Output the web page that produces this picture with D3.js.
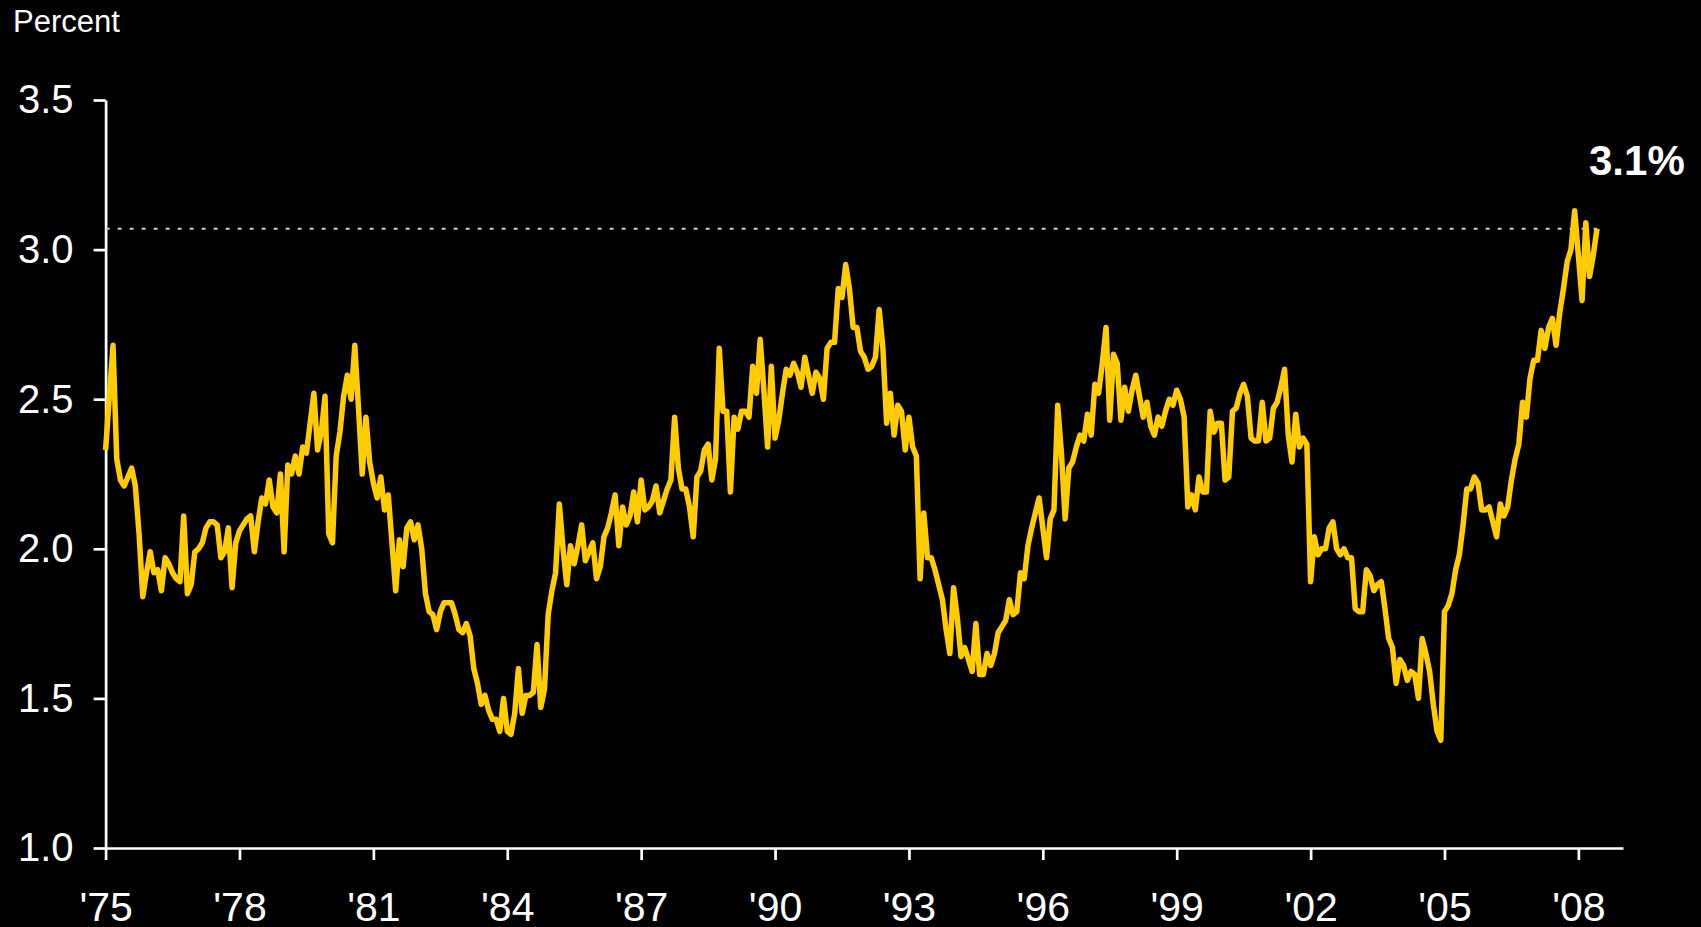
<!DOCTYPE html>
<html lang="en">
<head>
<meta charset="utf-8">
<title>Percent</title>
<style type="text/css">
body
{
   margin: 0;
   background: #000;
}
svg text
{
   font-family: "Liberation Sans", Arial, sans-serif;
   fill: #fff;
}
.axis path, .axis line
{
   stroke: #fff;
   stroke-width: 2.7;
}
.line
{
   fill: none;
   stroke: #FFCC00;
   stroke-width: 5.5;
   stroke-linejoin: round;
}
</style>
<script type="text/javascript" src="https://d3js.org/d3.v7.min.js"></script>
</head>

<body>

<script type="text/javascript">
// monthly values, Jan..Dec
var y1975 = [2.33, 2.51, 2.68, 2.30, 2.23, 2.21, 2.24, 2.27, 2.21, 2.05, 1.84, 1.92];
var y1976 = [1.99, 1.92, 1.93, 1.86, 1.97, 1.95, 1.92, 1.90, 1.89, 2.11, 1.85, 1.88];
var y1977 = [1.99, 2.00, 2.02, 2.07, 2.09, 2.09, 2.08, 1.97, 1.99, 2.07, 1.87, 2.02];
var y1978 = [2.06, 2.08, 2.10, 2.11, 1.99, 2.09, 2.17, 2.15, 2.23, 2.14, 2.12, 2.25];
var y1979 = [1.99, 2.28, 2.25, 2.31, 2.25, 2.34, 2.32, 2.42, 2.52, 2.33, 2.39, 2.51];
var y1980 = [2.05, 2.02, 2.31, 2.39, 2.51, 2.58, 2.50, 2.68, 2.47, 2.25, 2.44, 2.29];
var y1981 = [2.22, 2.17, 2.24, 2.13, 2.18, 2.02, 1.86, 2.03, 1.94, 2.07, 2.09, 2.03];
var y1982 = [2.08, 2.00, 1.85, 1.79, 1.78, 1.73, 1.79, 1.82, 1.82, 1.82, 1.78, 1.73];
var y1983 = [1.72, 1.75, 1.71, 1.60, 1.55, 1.48, 1.51, 1.46, 1.43, 1.43, 1.39, 1.50];
var y1984 = [1.39, 1.38, 1.45, 1.60, 1.45, 1.51, 1.51, 1.52, 1.68, 1.47, 1.53, 1.78];
var y1985 = [1.86, 1.92, 2.15, 2.00, 1.88, 2.01, 1.95, 2.01, 2.08, 1.96, 1.99, 2.02];
var y1986 = [1.90, 1.94, 2.04, 2.07, 2.12, 2.18, 2.01, 2.14, 2.08, 2.11, 2.19, 2.09];
var y1987 = [2.23, 2.13, 2.14, 2.16, 2.21, 2.12, 2.16, 2.20, 2.23, 2.44, 2.27, 2.20];
var y1988 = [2.20, 2.14, 2.04, 2.24, 2.26, 2.33, 2.35, 2.23, 2.30, 2.67, 2.46, 2.46];
var y1989 = [2.19, 2.44, 2.40, 2.46, 2.46, 2.44, 2.61, 2.52, 2.70, 2.53, 2.34, 2.61];
var y1990 = [2.37, 2.43, 2.52, 2.60, 2.58, 2.62, 2.59, 2.54, 2.64, 2.58, 2.52, 2.59];
var y1991 = [2.57, 2.50, 2.67, 2.69, 2.69, 2.87, 2.84, 2.95, 2.87, 2.74, 2.74, 2.66];
var y1992 = [2.64, 2.60, 2.61, 2.64, 2.80, 2.67, 2.42, 2.52, 2.38, 2.48, 2.46, 2.33];
var y1993 = [2.44, 2.34, 2.31, 1.90, 2.12, 1.97, 1.97, 1.93, 1.88, 1.83, 1.73, 1.65];
var y1994 = [1.87, 1.77, 1.64, 1.67, 1.63, 1.59, 1.75, 1.58, 1.58, 1.65, 1.61, 1.65];
var y1995 = [1.72, 1.74, 1.76, 1.83, 1.78, 1.79, 1.92, 1.90, 2.01, 2.07, 2.12, 2.17];
var y1996 = [2.07, 1.97, 2.10, 2.13, 2.48, 2.32, 2.10, 2.27, 2.29, 2.34, 2.38, 2.36];
var y1997 = [2.45, 2.38, 2.55, 2.52, 2.62, 2.74, 2.43, 2.65, 2.62, 2.43, 2.54, 2.46];
var y1998 = [2.53, 2.58, 2.51, 2.44, 2.49, 2.41, 2.38, 2.44, 2.41, 2.46, 2.50, 2.48];
var y1999 = [2.53, 2.50, 2.44, 2.14, 2.18, 2.13, 2.24, 2.19, 2.19, 2.46, 2.39, 2.42];
var y2000 = [2.42, 2.23, 2.24, 2.46, 2.47, 2.52, 2.55, 2.51, 2.37, 2.36, 2.36, 2.49];
var y2001 = [2.36, 2.37, 2.47, 2.49, 2.54, 2.60, 2.38, 2.29, 2.45, 2.34, 2.37, 2.35];
var y2002 = [1.89, 2.04, 1.98, 2.00, 2.00, 2.07, 2.09, 2.00, 1.98, 2.00, 1.97, 1.97];
var y2003 = [1.80, 1.79, 1.79, 1.93, 1.91, 1.86, 1.88, 1.89, 1.80, 1.70, 1.67, 1.55];
var y2004 = [1.63, 1.61, 1.56, 1.59, 1.58, 1.50, 1.70, 1.65, 1.59, 1.48, 1.39, 1.36];
var y2005 = [1.79, 1.81, 1.85, 1.93, 1.98, 2.08, 2.20, 2.20, 2.24, 2.22, 2.13, 2.13];
var y2006 = [2.14, 2.09, 2.04, 2.15, 2.11, 2.14, 2.23, 2.30, 2.35, 2.49, 2.44, 2.57];
var y2007 = [2.63, 2.63, 2.73, 2.67, 2.74, 2.77, 2.68, 2.79, 2.87, 2.96, 3.00, 3.13];
var y2008 = [2.98, 2.83, 3.09, 2.91, 2.98, 3.07];

var years = [y1975, y1976, y1977, y1978, y1979, y1980, y1981, y1982, y1983, y1984,
             y1985, y1986, y1987, y1988, y1989, y1990, y1991, y1992, y1993, y1994,
             y1995, y1996, y1997, y1998, y1999, y2000, y2001, y2002, y2003, y2004,
             y2005, y2006, y2007, y2008];
var firstYear = 1975;

var xTicks = [1975, 1978, 1981, 1984, 1987, 1990, 1993, 1996, 1999, 2002, 2005, 2008];
var yTicks = [1.0, 1.5, 2.0, 2.5, 3.0, 3.5];
var latestLabel = "3.1%";

var w = 1701;
var h = 927;
var svg = d3.select("body")
            .append("svg")
            .attr("width", w)
            .attr("height", h);

var data = [];
years.forEach(function(vals, i) {
   vals.forEach(function(v, m) {
      data.push({t: firstYear + i + m / 12, v: v});
   });
});

var x = d3.scaleLinear().domain([1975, 2009]).range([105.6, 1623]);
var y = d3.scaleLinear().domain([1.0, 3.5]).range([848, 100]);

// y axis
var yAxis = svg.append("g")
   .attr("class", "axis")
   .attr("transform", "translate(" + x(1975) + ",0)")
   .call(d3.axisLeft(y).tickValues(yTicks).tickFormat(d3.format(".1f"))
           .tickSize(12).tickSizeOuter(0).tickPadding(20));
yAxis.selectAll("text").style("font-size", "40px");

// x axis
var xAxis = svg.append("g")
   .attr("class", "axis")
   .attr("transform", "translate(0," + y(1.0) + ")")
   .call(d3.axisBottom(x).tickValues(xTicks)
           .tickFormat(function(d) { return "'" + String(d).slice(2); })
           .tickSize(12).tickSizeOuter(0));
xAxis.selectAll("text")
   .style("font-size", "41px")
   .attr("y", 73)
   .attr("dy", null);

// dotted line at latest value
var last = data[data.length - 1];
svg.append("line")
   .attr("x1", x(1975))
   .attr("x2", x(last.t))
   .attr("y1", y(last.v))
   .attr("y2", y(last.v))
   .style("stroke", "#d0d0d0")
   .style("stroke-width", 2)
   .style("stroke-dasharray", "4,8");

var line = d3.line()
   .x(function(d) { return x(d.t); })
   .y(function(d) { return y(d.v); });

svg.append("path")
   .datum(data)
   .attr("class", "line")
   .attr("d", line);

svg.append("text")
   .attr("x", 13)
   .attr("y", 32)
   .style("font-size", "31px")
   .text("Percent");

svg.append("text")
   .attr("x", 1589)
   .attr("y", 175)
   .style("font-size", "42px")
   .style("font-weight", "bold")
   .text(latestLabel);
</script>
</body>
</html>
